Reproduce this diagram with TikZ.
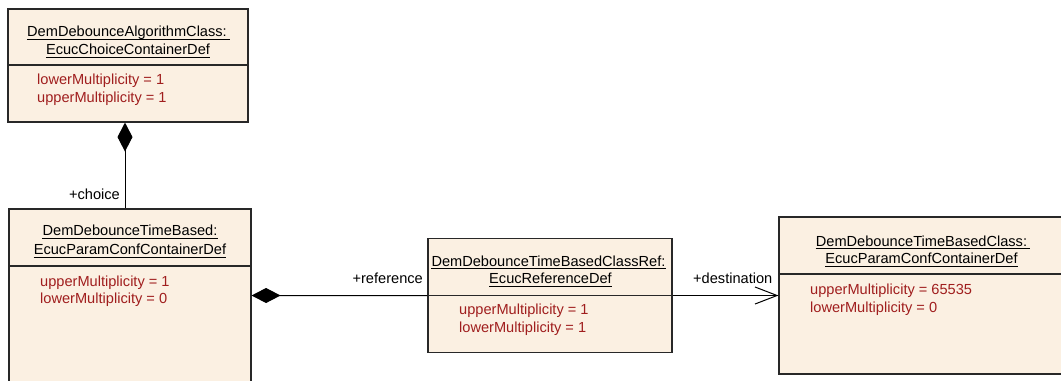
\documentclass[tikz,border=0pt]{standalone}
\usepackage{fontspec}
\setmainfont{Liberation Sans}
\usetikzlibrary{arrows.meta}
\definecolor{boxfill}{RGB}{251,240,226}
\definecolor{attrred}{RGB}{160,30,30}
\definecolor{edge}{RGB}{40,40,40}
\tikzset{
  umlbox/.style={draw=edge, line width=1.1bp, fill=boxfill, rectangle, inner sep=0pt},
  ttl/.style={anchor=base, inner sep=0pt, font=\fontsize{14.6bp}{17bp}\selectfont},
  attr/.style={anchor=base west, inner sep=0pt, text=attrred, font=\fontsize{14.6bp}{17bp}\selectfont},
  lbl/.style={inner sep=0pt, font=\fontsize{14.6bp}{17bp}\selectfont},
  divider/.style={draw=edge, line width=1.1bp},
  uline/.style={draw=black, line width=0.9bp},
  conn/.style={draw=black, line width=1bp},
  comp/.style={conn, {Diamond[length=29bp,width=15bp,fill=black]}-},
  navig/.style={conn, -{Straight Barb[length=22bp,width=17bp,line width=1bp]}}
}
\begin{document}
\begin{tikzpicture}[x=1bp,y=-1bp]
\useasboundingbox (0,0) rectangle (1061,380);
\begin{scope}
\clip (0,0) rectangle (1061,380);
% boxes
\node[umlbox, minimum width=240bp, minimum height=113bp] (A) at (128,65.5) {};
\node[umlbox, minimum width=242bp, minimum height=186bp] (B) at (130,302) {};
\node[umlbox, minimum width=244bp, minimum height=114bp] (C) at (550,295.5) {};
\node[umlbox, minimum width=285bp, minimum height=157bp] (D) at (921.5,295.5) {};
% dividers
\draw[divider] (8,65) -- (248,65);
\draw[divider] (9,266) -- (251,266);
\draw[divider] (428,295.5) -- (672,295.5);
\draw[divider] (779,274) -- (1064,274);
% titles A
\node[ttl] (A1) at (127,36.5) {DemDebounceAlgorithmClass:};
\node[ttl] (A2) at (128,54) {EcucChoiceContainerDef};
\draw[uline] ([yshift=-2.5bp]A1.base west) -- ([yshift=-2.5bp,xshift=3bp]A1.base east);
\draw[uline] ([yshift=-3bp]A2.base west) -- ([yshift=-3bp]A2.base east);
\node[attr] (A3) at (37,84.5) {lowerMultiplicity = 1};
\node[attr] (A4) at (37,102.5) {upperMultiplicity = 1};
% titles B
\node[ttl] (B1) at (130,235) {DemDebounceTimeBased:};
\node[ttl] (B2) at (130,254) {EcucParamConfContainerDef};
\draw[uline] ([yshift=-3bp]B1.base west) -- ([yshift=-3bp]B1.base east);
\draw[uline] ([yshift=-3bp]B2.base west) -- ([yshift=-3bp]B2.base east);
\node[attr] (B3) at (40,286) {upperMultiplicity = 1};
\node[attr] (B4) at (40,303.5) {lowerMultiplicity = 0};
% titles C
\node[ttl] (C1) at (548.5,266) {DemDebounceTimeBasedClassRef:};
\node[ttl] (C2) at (550.5,283) {EcucReferenceDef};
\draw[uline] ([yshift=-2.5bp]C1.base west) -- ([yshift=-2.5bp]C1.base east);
\draw[uline] ([yshift=-3.5bp]C2.base west) -- ([yshift=-3.5bp]C2.base east);
\node[attr] (C3) at (459,314) {upperMultiplicity = 1};
\node[attr] (C4) at (459,332.5) {lowerMultiplicity = 1};
% titles D
\node[ttl] (D1) at (921.5,246.5) {DemDebounceTimeBasedClass:};
\node[ttl] (D2) at (921.5,263) {EcucParamConfContainerDef};
\draw[uline] ([yshift=-1.5bp]D1.base west) -- ([yshift=-1.5bp,xshift=3bp]D1.base east);
\draw[uline] ([yshift=-3bp]D2.base west) -- ([yshift=-3bp]D2.base east);
\node[attr] (D3) at (810,294) {upperMultiplicity = 65535};
\node[attr] (D4) at (810,312.5) {lowerMultiplicity = 0};
% connectors
\draw[comp] ([xshift=-3bp]A.south) -- ([xshift=-3bp]A.south |- B.north);
\draw[comp] ([yshift=6.5bp]B.east) -- (C.west);
\draw[navig] (C.east) -- (D.west);
% labels
\node[lbl, anchor=base east] (L1) at (120,199) {+choice};
\node[lbl, anchor=base east] (L2) at (423,283) {+reference};
\node[lbl, anchor=base west] (L3) at (693,283) {+destination};
\end{scope}
\end{tikzpicture}
\end{document}
